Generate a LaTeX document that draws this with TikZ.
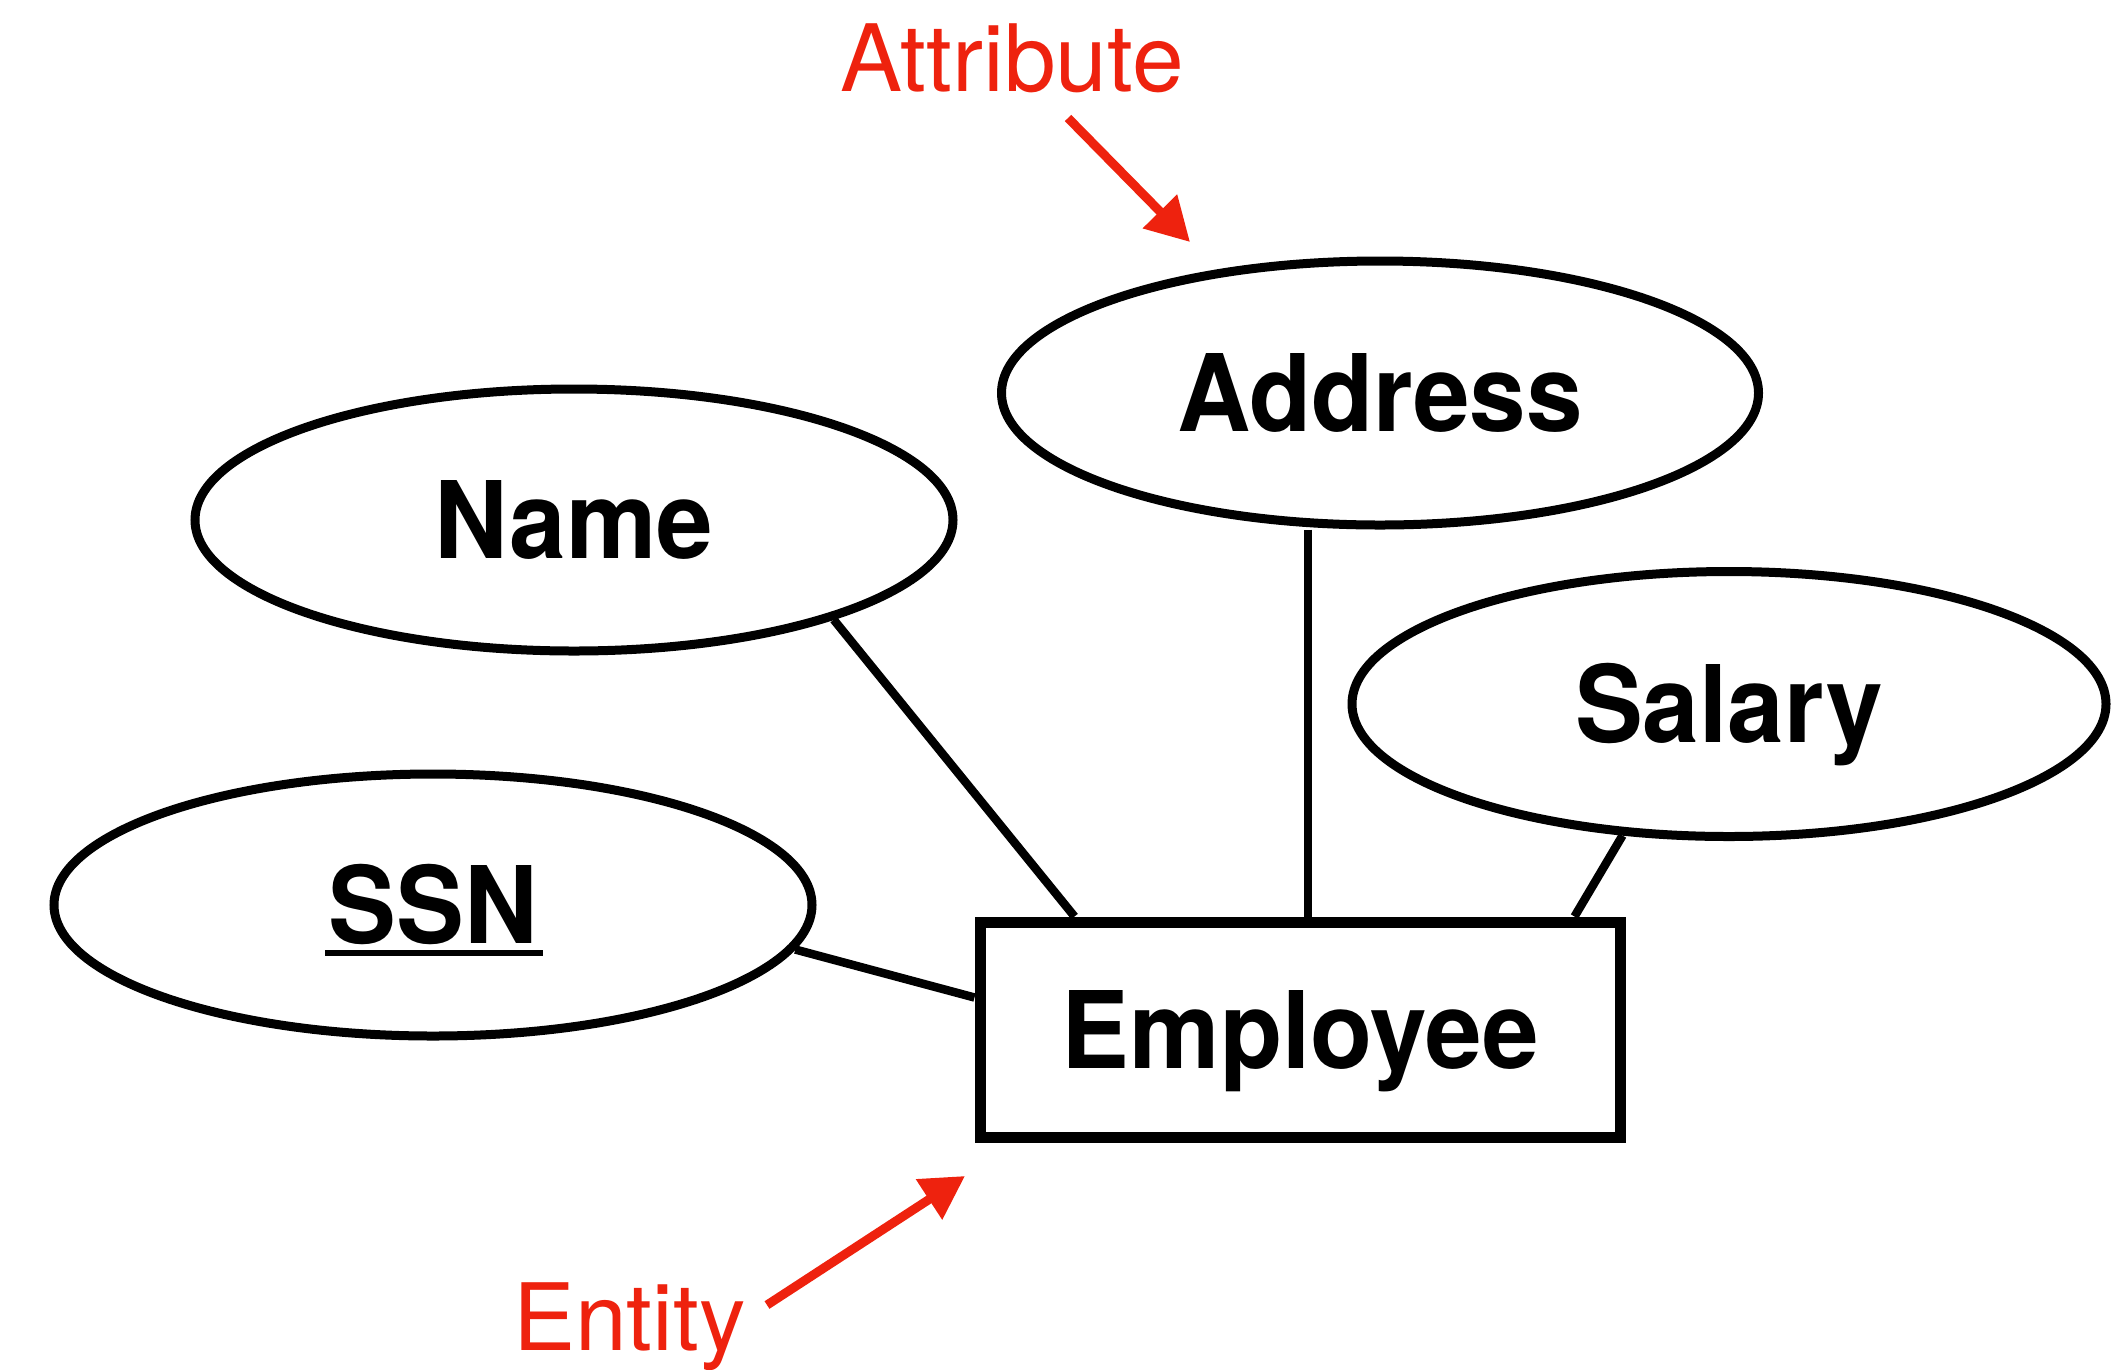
\documentclass[tikz,border=0pt]{standalone}
\usepackage{fontspec}
\usepackage{graphicx}
\usetikzlibrary{shapes.geometric,arrows.meta,backgrounds}
\newfontfamily\heros{TeX Gyre Heros}
\definecolor{annot}{RGB}{238,34,14}
\newcommand{\narrowtext}[1]{\scalebox{0.95}[1]{#1}}

\tikzset{
  attr/.style={ellipse, draw, line width=9pt, fill=white, inner sep=0pt,
    text height=77pt, text depth=0pt,
    font=\heros\bfseries\fontsize{107}{110}\selectfont},
  entitybox/.style={rectangle, draw, line width=11pt, fill=white, inner sep=0pt,
    text height=77pt, text depth=0pt,
    font=\heros\bfseries\fontsize{107}{110}\selectfont},
  link/.style={line width=8.5pt},
  note/.style={text=annot, inner sep=0pt, anchor=base west,
    font=\heros\fontsize{93}{100}\selectfont},
  pointer/.style={draw=annot, fill=annot, line width=9pt,
    -{Triangle[length=43pt,width=46pt]}}
}

\begin{document}
\begin{tikzpicture}[x=1pt,y=-1pt]
  \useasboundingbox (0,0) rectangle (2117,1369);

  % attributes
  \node[attr, minimum width=757pt, minimum height=264pt] (address) at (1380,393) {\narrowtext{Address}};
  \node[attr, minimum width=758pt, minimum height=262pt] (name) at (574,520) {\narrowtext{Name}};
  \node[attr, minimum width=754pt, minimum height=265pt] (salary) at (1729,704) {\narrowtext{Salary}};
  \node[attr, minimum width=758pt, minimum height=262pt] (ssn) at (433,905) {\narrowtext{SSN}};
  \draw[line width=6pt] ([xshift=-108pt,yshift=-9pt]ssn.base) -- ([xshift=110pt,yshift=-9pt]ssn.base);

  % entity
  \node[entitybox, minimum width=640pt, minimum height=215pt] (emp) at (1300,1029.5) {\narrowtext{Employee}};

  % connectors between attributes and the entity
  \begin{pgfonlayer}{background}
    \draw[link] (name.-21.6) -- ([xshift=100pt]emp.north west);
    \draw[link] ([xshift=-72pt]address.south) -- ([xshift=-72pt]address.south |- emp.north);
    \draw[link] (salary.-129.2) -- ([xshift=-51pt]emp.north east);
    \draw[link] (ssn.-7.6) -- ([yshift=-81pt]emp.north west);
  \end{pgfonlayer}

  % annotations
  \node[note] (attrlabel) at (840,91) {Attribute};
  \node[note] (entlabel) at (513,1350) {Entity};
  \coordinate (attrtail) at (1068,118);
  \coordinate (attrtip) at (1190,242);
  \coordinate (enttail) at (767,1305);
  \coordinate (enttip) at (965,1176);
  \draw[pointer] (attrtail) -- (attrtip);
  \draw[pointer] (enttail) -- (enttip);
\end{tikzpicture}
\end{document}
